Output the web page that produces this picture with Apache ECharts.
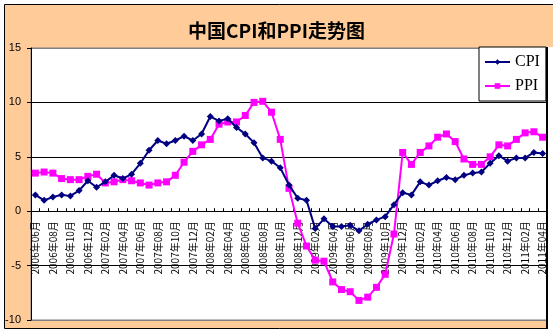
<!DOCTYPE html>
<html>
<head>
<meta charset="utf-8">
<script src="https://cdn.jsdelivr.net/npm/echarts@6/dist/echarts.min.js"></script>
<style>
html, body { margin: 0; padding: 0; background: #fff; }
#chart { width: 553px; height: 333px; }
</style>
</head>
<body>
<div id="chart"></div>
<script>
// Month labels, June 2006 to April 2011
const months = [
  '2006年06月','2006年07月','2006年08月','2006年09月','2006年10月','2006年11月','2006年12月',
  '2007年01月','2007年02月','2007年03月','2007年04月','2007年05月','2007年06月',
  '2007年07月','2007年08月','2007年09月','2007年10月','2007年11月','2007年12月',
  '2008年01月','2008年02月','2008年03月','2008年04月','2008年05月','2008年06月',
  '2008年07月','2008年08月','2008年09月','2008年10月','2008年11月','2008年12月',
  '2009年01月','2009年02月','2009年03月','2009年04月','2009年05月','2009年06月',
  '2009年07月','2009年08月','2009年09月','2009年10月','2009年11月','2009年12月',
  '2010年01月','2010年02月','2010年03月','2010年04月','2010年05月','2010年06月',
  '2010年07月','2010年08月','2010年09月','2010年10月','2010年11月','2010年12月',
  '2011年01月','2011年02月','2011年03月','2011年04月'
];

// Year-on-year change, %
const cpi = [
  1.5, 1.0, 1.3, 1.5, 1.4, 1.9, 2.8,
  2.2, 2.7, 3.3, 3.0, 3.4, 4.4, 5.6, 6.5, 6.2, 6.5, 6.9, 6.5,
  7.1, 8.7, 8.3, 8.5, 7.7, 7.1, 6.3, 4.9, 4.6, 4.0, 2.4, 1.2,
  1.0, -1.6, -0.7, -1.4, -1.4, -1.3, -1.8, -1.2, -0.8, -0.5, 0.6, 1.7,
  1.5, 2.7, 2.4, 2.8, 3.1, 2.9, 3.3, 3.5, 3.6, 4.4, 5.1, 4.6,
  4.9, 4.9, 5.4, 5.3
];
const ppi = [
  3.5, 3.6, 3.5, 3.0, 2.9, 2.9, 3.2,
  3.4, 2.6, 2.7, 2.9, 2.8, 2.6, 2.4, 2.6, 2.7, 3.3, 4.5, 5.5,
  6.1, 6.6, 8.0, 8.2, 8.2, 8.8, 10.0, 10.1, 9.1, 6.6, 2.1, -1.1,
  -3.2, -4.5, -4.6, -6.5, -7.2, -7.4, -8.2, -7.9, -7.0, -5.8, -2.1, 5.4,
  4.3, 5.4, 6.0, 6.8, 7.1, 6.4, 4.8, 4.3, 4.3, 5.0, 6.1, 6.0,
  6.6, 7.2, 7.3, 6.8
];

const yMin = -10;
const yMax = 15;
const gridTop = 48;
const gridBottom = 13;
const gridHeight = 333 - gridTop - gridBottom;
// Category axis sits on the zero line, with its labels hanging below it
const zeroShift = gridHeight * (0 - yMin) / (yMax - yMin);

const chart = echarts.init(document.getElementById('chart'), null, { renderer: 'canvas' });

chart.setOption({
  backgroundColor: '#ffffff',
  animation: false,
  textStyle: { fontFamily: 'SimSun, "Noto Sans CJK SC", sans-serif' },
  title: {
    text: '中国CPI和PPI走势图',
    left: 'center',
    top: 16,
    textStyle: {
      fontSize: 19,
      fontWeight: 'bold',
      color: '#000',
      fontFamily: 'SimSun, "Noto Sans CJK SC", sans-serif'
    }
  },
  graphic: [
    {
      type: 'rect',
      z: -10,
      silent: true,
      shape: { x: 4.5, y: 4.5, width: 560, height: 324 },
      style: { fill: '#FFCC99', stroke: '#000', lineWidth: 1 }
    },
    {
      type: 'rect',
      z: 10,
      silent: true,
      shape: { x: 548, y: 47, width: 8, height: 290 },
      style: { fill: '#fff' }
    },
    {
      type: 'line',
      z: 10,
      silent: true,
      shape: { x1: 547, y1: 47, x2: 547, y2: 329 },
      style: { stroke: '#000', lineWidth: 2 }
    }
  ],
  legend: {
    orient: 'vertical',
    left: 479,
    top: 47,
    padding: [7, 6, 7, 5],
    itemGap: 8,
    itemWidth: 25,
    itemHeight: 7,
    backgroundColor: '#fff',
    borderColor: '#000',
    borderWidth: 1,
    textStyle: {
      fontSize: 16,
      color: '#000',
      fontFamily: 'SimSun, "Liberation Serif", serif'
    },
    data: ['CPI', 'PPI']
  },
  grid: {
    left: 31,
    right: 6,
    top: gridTop,
    bottom: gridBottom,
    outerBoundsMode: 'none',
    containLabel: false,
    show: true,
    backgroundColor: '#fff',
    borderColor: '#808080',
    borderWidth: 1
  },
  xAxis: {
    type: 'category',
    data: months,
    boundaryGap: true,
    position: 'bottom',
    offset: -zeroShift,
    axisLine: { onZero: false, lineStyle: { color: '#000', width: 1 } },
    axisTick: { show: true, inside: true, length: 3, interval: 0, lineStyle: { color: '#000' } },
    axisLabel: {
      interval: 1,
      rotate: 90,
      margin: 10,
      fontSize: 10,
      color: '#000',
      padding: [0, 0, 6, 0]
    },
    splitLine: { show: false }
  },
  yAxis: {
    type: 'value',
    min: yMin,
    max: yMax,
    interval: 5,
    axisLine: { show: true, lineStyle: { color: '#000', width: 1 } },
    axisTick: { show: true, length: 4, lineStyle: { color: '#000' } },
    axisLabel: { fontSize: 11, color: '#000', margin: 10, fontFamily: 'SimSun, "Liberation Sans", sans-serif' },
    splitLine: {
      show: true,
      lineStyle: { color: ['#808080', '#000', '#000', '#000', '#000', '#808080'], width: 1 }
    }
  },
  series: [
    {
      name: 'CPI',
      type: 'line',
      data: cpi,
      symbol: 'diamond',
      symbolSize: 7,
      showAllSymbol: true,
      color: '#000080',
      lineStyle: { color: '#000080', width: 2 },
      itemStyle: { color: '#000080' },
      z: 3
    },
    {
      name: 'PPI',
      type: 'line',
      data: ppi,
      symbol: 'rect',
      symbolSize: 7,
      showAllSymbol: true,
      color: '#FF00FF',
      lineStyle: { color: '#FF00FF', width: 2 },
      itemStyle: { color: '#FF00FF' },
      z: 2
    }
  ]
});
</script>
</body>
</html>
